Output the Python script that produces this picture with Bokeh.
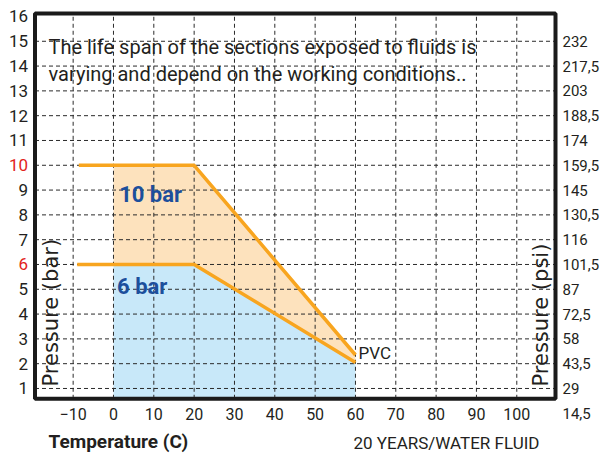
from bokeh.plotting import figure
from bokeh.models import FixedTicker, LinearAxis, Label, Range1d, BoxAnnotation
from bokeh.embed import file_html
from bokeh.resources import INLINE
from math import pi

# ---- data ----
temp_ticks = [-10, 0, 10, 20, 30, 40, 50, 60, 70, 80, 90, 100]
bar_ticks = [1, 2, 3, 4, 5, 6, 7, 8, 9, 10, 11, 12, 13, 14, 15, 16]
bar_grid = [1, 2, 3, 4, 5, 6, 7, 8, 9, 10, 11, 12, 13, 14, 15]
red_bar_ticks = [6, 10]
psi_ticks = [0, 1, 2, 3, 4, 5, 6, 7, 8, 9, 10, 11, 12, 13, 14, 15]
psi_labels = ["14,5", "29", "43,5", "58", "72,5", "87", "101,5", "116", "130,5",
              "145", "159,5", "174", "188,5", "203", "217,5", "232"]

line10_x = [-8.6, 20, 60]
line10_y = [10, 10, 2.35]
line6_x = [-9.0, 20, 60]
line6_y = [6, 6, 2.05]
fill_x = [0, 20, 60]
fill6_top = [6, 6, 2.05]
fill10_top = [10, 10, 2.35]

# ---- style ----
NARROW = "Roboto"
WIDE = "DejaVu Sans"
DARK = "#231f20"
RED = "#e2231a"
BLUE_TXT = "#1c4f9c"
ORANGE = "#f8a51f"
BLUE_FILL = "#c8e8f9"
ORANGE_FILL = "#fde2bd"

# chart box (data units) and pixel scale
BX0, BX1 = -19.46, 109.6
BY0, BY1 = 0.585, 16.12
SX, SY = 4.033, 24.8          # px per degree, px per bar
W, H = 602, 456
# frame covers the whole canvas; box placed inside it
x_start = BX0 - 34.5 / SX
x_end = x_start + W / SX
y_end = BY1 + 13.0 / SY
y_start = y_end - H / SY

p = figure(width=W, height=H, x_range=Range1d(x_start, x_end), y_range=Range1d(y_start, y_end),
           output_backend="svg", toolbar_location=None,
           min_border_left=0, min_border_right=0, min_border_top=0, min_border_bottom=0)
p.background_fill_color = "white"
p.border_fill_color = "white"
p.outline_line_color = None
p.grid.visible = False

# fills
p.varea(x=fill_x, y1=BY0, y2=fill6_top, fill_color=BLUE_FILL, level="image")
p.varea(x=fill_x, y1=fill6_top, y2=fill10_top, fill_color=ORANGE_FILL, level="image")

# dashed grid inside the box
p.segment(x0=temp_ticks, y0=BY0, x1=temp_ticks, y1=BY1, line_color="#2b2b2b",
          line_dash="4 3", line_width=1, level="underlay")
p.segment(x0=BX0, y0=bar_grid, x1=BX1, y1=bar_grid, line_color="#2b2b2b",
          line_dash="4 3", line_width=1, level="underlay")

# curves
p.line(line10_x, line10_y, line_color=ORANGE, line_width=3.5)
p.line(line6_x, line6_y, line_color=ORANGE, line_width=3.5)

# box outline
p.add_layout(BoxAnnotation(left=BX0, right=BX1, bottom=BY0, top=BY1, fill_alpha=0,
                           line_color="#1a1a1a", line_alpha=1.0, line_width=4))

def style_axis(ax, standoff, size="16px"):
    ax.axis_line_color = None
    ax.major_tick_line_color = None
    ax.minor_tick_line_color = None
    ax.major_tick_out = 0
    ax.major_tick_in = 0
    ax.major_label_standoff = standoff
    ax.major_label_text_font = NARROW
    ax.major_label_text_font_size = size
    ax.major_label_text_color = DARK

# bottom axis at box bottom
p.xaxis.ticker = FixedTicker(ticks=temp_ticks)
p.xaxis.fixed_location = BY0
style_axis(p.xaxis[0], 9)

# left axis at box left
p.yaxis.ticker = FixedTicker(ticks=bar_ticks)
p.yaxis.fixed_location = BX0
p.yaxis.major_label_overrides = {t: "" for t in red_bar_ticks}
style_axis(p.yaxis[0], 7, "17px")
for t in red_bar_ticks:
    p.add_layout(Label(x=BX0, y=t, x_offset=-7, text=str(t), text_align="right",
                       text_baseline="middle", text_font=NARROW, text_font_size="17px",
                       text_color=RED))

# right axis (psi) - labels shifted one step as in the original
right = LinearAxis(ticker=FixedTicker(ticks=psi_ticks[1:]), fixed_location=BX1,
                   major_label_overrides={t: s for t, s in zip(psi_ticks[1:], psi_labels[1:])})
style_axis(right, 7, "15px")
p.add_layout(right, "right")
p.add_layout(Label(x=BX1, y=psi_ticks[0], x_offset=7, text=psi_labels[0], text_align="left",
                   text_baseline="middle", text_font=NARROW, text_font_size="15px",
                   text_color=DARK))

# texts (anchored at their vertical middle)
def lab(x, y, text, size, color=DARK, font=NARROW, style="normal", angle=0, align="left"):
    p.add_layout(Label(x=x, y=y, text=text, text_font=font, text_font_size=size,
                       text_color=color, text_font_style=style, angle=angle,
                       text_align=align, text_baseline="middle"))

lab(-16.1, 14.77, "The life span of the sections exposed to fluids is", "20px")
lab(-16.1, 13.70, "varying and depend on the working conditions..", "20px")
lab(1.4, 8.84, "10 bar", "22px", color=BLUE_TXT, style="bold")
lab(0.9, 5.11, "6 bar", "22px", color=BLUE_TXT, style="bold")
lab(60.75, 2.43, "PVC", "17px")
lab(-15.49, 1.08, "Pressure (bar)", "21px", font=WIDE, angle=pi / 2)
lab(106.0, 1.08, "Pressure (psi)", "21px", font=WIDE, angle=pi / 2)
lab(-16.1, -1.14, "Temperature (C)", "19px", style="bold")
lab(59.5, -1.18, "20 YEARS/WATER FLUID", "17px")

open("out.html", "w").write(file_html(p, INLINE))
